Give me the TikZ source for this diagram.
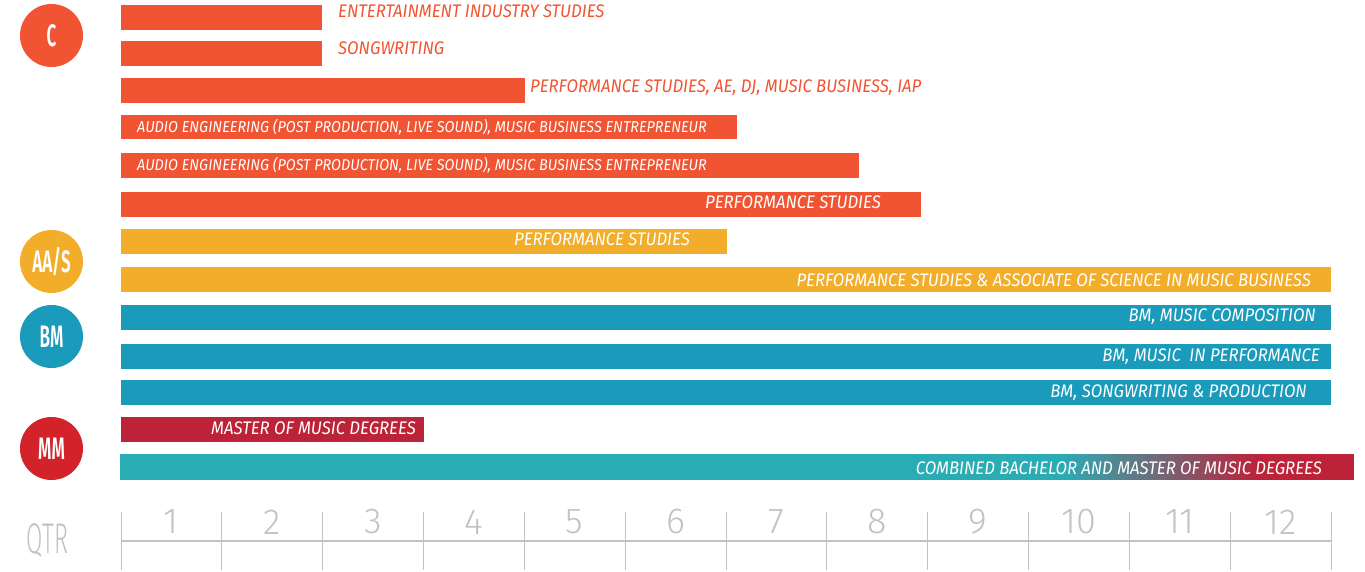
\documentclass[tikz,border=0pt]{standalone}
\usepackage{fontspec}
\setmainfont{Fira Sans}
\newfontfamily\labelfont{Fira Sans}[FakeStretch=0.92]
\newfontfamily\badgefont{Fira Sans SemiBold}[FakeStretch=0.55]
\newfontfamily\axisfont{Fira Sans Light}
\newfontfamily\qtrfont{Fira Sans Light}[FakeStretch=0.55]
\definecolor{certorange}{RGB}{240,84,50}
\definecolor{assocyellow}{RGB}{242,174,42}
\definecolor{bachblue}{RGB}{26,155,187}
\definecolor{masterred}{RGB}{188,34,56}
\definecolor{mmred}{RGB}{210,35,42}
\definecolor{combteal}{RGB}{42,172,181}
\definecolor{axisgray}{RGB}{192,194,197}

\begin{document}
\begin{tikzpicture}[x=1pt,y=-1pt,
badge/.style={circle,minimum size=63pt,inner sep=0pt,text=white,font=\badgefont\fontsize{31}{31}\selectfont},
inside text/.style={text=white,inner sep=0pt,anchor=base east,font=\labelfont\itshape\fontsize{18.2}{18.2}\selectfont},
outside text/.style={text=certorange,inner sep=0pt,anchor=base west,font=\labelfont\itshape\fontsize{18.2}{18.2}\selectfont},
small text/.style={text=white,inner sep=0pt,anchor=base west,font=\labelfont\itshape\fontsize{15.7}{15.7}\selectfont},
qtr number/.style={text=axisgray,inner sep=0pt,font=\axisfont\fontsize{36}{36}\selectfont}]
\useasboundingbox (0,0) rectangle (1365,572);
\def\x{100.833};
\def\s{121};

% degree badges
\node[badge,fill=certorange] (c) at (51.5,35.5) {C};
\node[badge,fill=assocyellow] (aas) at (51.5,261.5) {AA/S};
\node[badge,fill=bachblue] (bm) at (51.5,336.5) {BM};
\node[badge,fill=mmred] (mm) at (51.5,448.5) {MM};

% certificate bars
\fill[certorange] (\s,5) rectangle (322,30);
\fill[certorange] (\s,41) rectangle (322,66);
\fill[certorange] (\s,78) rectangle (525,103);
\fill[certorange] (\s,115) rectangle (737,139.5);
\fill[certorange] (\s,153) rectangle (859,178);
\fill[certorange] (\s,192) rectangle (921,217);
\node[outside text] (eis) at (338,18) {ENTERTAINMENT INDUSTRY STUDIES};
\node[outside text] (sw) at (338,54.5) {SONGWRITING};
\node[outside text] (ps1) at (530,92.5) {PERFORMANCE STUDIES, AE, DJ, MUSIC BUSINESS, IAP};
\node[small text] (ae1) at (137,133) {AUDIO ENGINEERING (POST PRODUCTION, LIVE SOUND), MUSIC BUSINESS ENTREPRENEUR};
\node[small text] (ae2) at (137,171) {AUDIO ENGINEERING (POST PRODUCTION, LIVE SOUND), MUSIC BUSINESS ENTREPRENEUR};
\node[inside text] (ps2) at (881,208.3) {PERFORMANCE STUDIES};

% associate bars
\fill[assocyellow] (\s,229) rectangle (727,254);
\fill[assocyellow] (\s,267) rectangle (1331,292);
\node[inside text] (ps3) at (690,245.5) {PERFORMANCE STUDIES};
\node[inside text] (psas) at (1311,286) {PERFORMANCE STUDIES \& ASSOCIATE OF SCIENCE IN MUSIC BUSINESS};

% bachelor bars
\fill[bachblue] (\s,305) rectangle (1331,330);
\fill[bachblue] (\s,344) rectangle (1331,369);
\fill[bachblue] (\s,380) rectangle (1331,405);
\node[inside text] (comp) at (1316,321.5) {BM, MUSIC COMPOSITION};
\node[inside text] (perf) at (1320,361.5) {BM, MUSIC\ \ IN PERFORMANCE};
\node[inside text] (song) at (1307,397.5) {BM, SONGWRITING \& PRODUCTION};

% master bars
\fill[masterred] (\s,417) rectangle (424,442);
\fill[combteal] (120,454) rectangle (1061,480);
\foreach \i [evaluate=\i as \p using int(2*\i)] in {0,...,49}
  \fill[masterred!\p!combteal] (1060+\i*3.96,454) rectangle (1064.5+\i*3.96,480);
\fill[masterred] (1257,454) rectangle (1354,480);
\node[inside text] (mmd) at (416,434.5) {MASTER OF MUSIC DEGREES};
\node[inside text] (comb) at (1322,474) {COMBINED BACHELOR AND MASTER OF MUSIC DEGREES};

% quarter axis
\node[text=axisgray,inner sep=0pt,font=\qtrfont\fontsize{43}{43}\selectfont] (qtr) at (47.5,541) {QTR};
\draw[axisgray,line width=1.2pt] (\s,541) -- (\s+12*\x,541);
\draw[axisgray,line width=1pt] (\s+0*\x,512) -- (\s+0*\x,570);
\draw[axisgray,line width=1pt] (\s+1*\x,512) -- (\s+1*\x,570);
\draw[axisgray,line width=1pt] (\s+2*\x,512) -- (\s+2*\x,570);
\draw[axisgray,line width=1pt] (\s+3*\x,512) -- (\s+3*\x,570);
\draw[axisgray,line width=1pt] (\s+4*\x,512) -- (\s+4*\x,570);
\draw[axisgray,line width=1pt] (\s+5*\x,512) -- (\s+5*\x,570);
\draw[axisgray,line width=1pt] (\s+6*\x,512) -- (\s+6*\x,570);
\draw[axisgray,line width=1pt] (\s+7*\x,512) -- (\s+7*\x,570);
\draw[axisgray,line width=1pt] (\s+8*\x,512) -- (\s+8*\x,570);
\draw[axisgray,line width=1pt] (\s+9*\x,512) -- (\s+9*\x,570);
\draw[axisgray,line width=1pt] (\s+10*\x,512) -- (\s+10*\x,570);
\draw[axisgray,line width=1pt] (\s+11*\x,512) -- (\s+11*\x,570);
\draw[axisgray,line width=1pt] (\s+12*\x,512) -- (\s+12*\x,570);
\node[qtr number] (q1) at (\s+0.5*\x,522) {1};
\node[qtr number] (q2) at (\s+1.5*\x,522) {2};
\node[qtr number] (q3) at (\s+2.5*\x,522) {3};
\node[qtr number] (q4) at (\s+3.5*\x,522) {4};
\node[qtr number] (q5) at (\s+4.5*\x,522) {5};
\node[qtr number] (q6) at (\s+5.5*\x,522) {6};
\node[qtr number] (q7) at (\s+6.5*\x,522) {7};
\node[qtr number] (q8) at (\s+7.5*\x,522) {8};
\node[qtr number] (q9) at (\s+8.5*\x,522) {9};
\node[qtr number] (q10) at (\s+9.5*\x,522) {10};
\node[qtr number] (q11) at (\s+10.5*\x,522) {11};
\node[qtr number] (q12) at (\s+11.5*\x,522) {12};

\end{tikzpicture}
\end{document}
